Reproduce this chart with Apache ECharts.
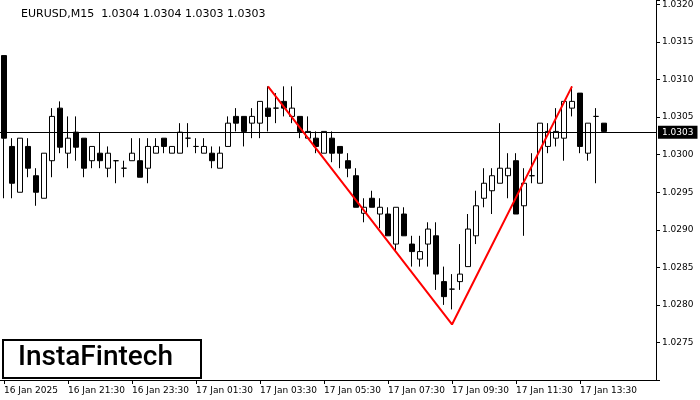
<!DOCTYPE html>
<html><head><meta charset="utf-8">
<script src="https://cdn.jsdelivr.net/npm/echarts@6/dist/echarts.min.js"></script>
<style>html,body{margin:0;padding:0;background:#fff}#c{width:700px;height:400px}</style>
</head><body><div id="c"></div>
<script>
// OHLC per 15-minute candle: [open, close, low, high]
const ohlc = [
[1.03132,1.03022,1.02942,1.03132],[1.03011,1.02962,1.02942,1.03022],[1.02950,1.03022,1.02950,1.03022],[1.03011,1.02982,1.02970,1.03022],
[1.02972,1.02950,1.02932,1.02982],[1.02942,1.03002,1.02942,1.03002],[1.02992,1.03051,1.02970,1.03062],[1.03062,1.03010,1.03002,1.03071],
[1.03002,1.03022,1.02982,1.03051],[1.03030,1.03010,1.02992,1.03051],[1.03022,1.02982,1.02970,1.03022],[1.02992,1.03011,1.02982,1.03011],
[1.03002,1.02992,1.02982,1.03030],[1.02982,1.03002,1.02970,1.03011],[1.02992,1.02992,1.02962,1.02992],[1.02982,1.02982,1.02970,1.02992],
[1.02992,1.03002,1.02992,1.03022],[1.02992,1.02970,1.02970,1.03022],[1.02982,1.03011,1.02962,1.03022],[1.03002,1.03011,1.03002,1.03022],
[1.03022,1.03011,1.03002,1.03022],[1.03002,1.03011,1.03002,1.03011],[1.03002,1.03030,1.03002,1.03042],[1.03022,1.03022,1.03010,1.03042],
[1.03011,1.03011,1.03002,1.03022],[1.03002,1.03011,1.03002,1.03022],[1.03002,1.02992,1.02982,1.03011],[1.02982,1.03002,1.02982,1.03011],
[1.03011,1.03042,1.03011,1.03051],[1.03051,1.03042,1.03031,1.03062],[1.03051,1.03031,1.03011,1.03051],[1.03042,1.03051,1.03022,1.03062],
[1.03042,1.03071,1.03022,1.03071],[1.03062,1.03051,1.03031,1.03091],[1.03062,1.03062,1.03042,1.03082],[1.03071,1.03062,1.03051,1.03091],
[1.03051,1.03062,1.03042,1.03091],[1.03051,1.03031,1.03022,1.03051],[1.03022,1.03031,1.03022,1.03051],[1.03022,1.03011,1.03002,1.03031],
[1.03002,1.03031,1.03002,1.03031],[1.03022,1.03002,1.02990,1.03031],[1.03011,1.03002,1.02982,1.03011],[1.02992,1.02982,1.02970,1.03002],
[1.02972,1.02930,1.02930,1.02982],[1.02922,1.02930,1.02910,1.02942],[1.02942,1.02930,1.02930,1.02952],[1.02921,1.02930,1.02902,1.02942],
[1.02921,1.02892,1.02892,1.02930],[1.02881,1.02930,1.02871,1.02930],[1.02921,1.02892,1.02892,1.02930],[1.02881,1.02871,1.02851,1.02892],
[1.02861,1.02871,1.02851,1.02892],[1.02881,1.02901,1.02851,1.02910],[1.02892,1.02841,1.02820,1.02910],[1.02831,1.02811,1.02800,1.02851],
[1.02821,1.02821,1.02794,1.02841],[1.02831,1.02841,1.02820,1.02881],[1.02851,1.02901,1.02851,1.02921],[1.02892,1.02932,1.02881,1.02952],
[1.02942,1.02962,1.02930,1.02982],[1.02952,1.02972,1.02921,1.02982],[1.02962,1.02982,1.02962,1.03042],[1.02972,1.02982,1.02942,1.03002],
[1.02992,1.02921,1.02921,1.03002],[1.02932,1.02962,1.02892,1.02982],[1.02972,1.02972,1.02962,1.03002],[1.02962,1.03042,1.02962,1.03042],
[1.03011,1.03031,1.03002,1.03042],[1.03022,1.03031,1.03011,1.03062],[1.03022,1.03071,1.02992,1.03071],[1.03062,1.03071,1.03051,1.03091],
[1.03082,1.03011,1.03002,1.03082],[1.03002,1.03042,1.02992,1.03042],[1.03051,1.03051,1.02962,1.03062],[1.03042,1.03031,1.03031,1.03042]
];
const totalSlots = 82;
const tickLabels = ["16 Jan 2025","16 Jan 21:30","16 Jan 23:30","17 Jan 01:30","17 Jan 03:30","17 Jan 05:30","17 Jan 07:30","17 Jan 09:30","17 Jan 11:30","17 Jan 13:30"];
const pattern = [[33,1.03091],[56,1.02774],[71,1.03091]];
const currentPrice = 1.0303;
const title = "EURUSD,M15  1.0304 1.0304 1.0303 1.0303";

const cats = Array.from({length: totalSlots}, (_, i) => i % 8 === 0 && tickLabels[i/8] ? tickLabels[i/8] : String(i));
const chart = echarts.init(document.getElementById('c'));
chart.setOption({
  animation: false,
  backgroundColor: '#fff',
  title: {text: title, left: 16, top: 4, textStyle: {fontSize: 11, fontWeight: 'normal', color: '#000', fontFamily: 'DejaVu Sans'}},
  grid: {left: 0, top: 0, width: 656, height: 380},
  xAxis: {type: 'category', data: cats, boundaryGap: true,
    axisLine: {lineStyle: {color: '#000'}},
    axisTick: {show: true, interval: (i) => i % 8 === 0 && i/8 < tickLabels.length, alignWithLabel: true, length: 4, lineStyle:{color:'#000'}},
    axisLabel: {interval: (i) => i % 8 === 0 && i/8 < tickLabels.length, align: 'left', fontSize: 9, color: '#000', fontFamily: 'DejaVu Sans', margin: 6},
    splitLine: {show: false}},
  yAxis: {type: 'value', position: 'right', min: 1.0270, max: 1.03205, interval: 0.0005,
    axisLine: {show: true, lineStyle: {color: '#000'}},
    axisTick: {show: true, length: 4, lineStyle:{color:'#000'}},
    axisLabel: {fontSize: 9, color: '#000', fontFamily: 'DejaVu Sans', margin: 6,
      formatter: v => (v < 1.02705 || v > 1.03204) ? '' : v.toFixed(4)},
    splitLine: {show: false}},
  series: [
    {type: 'candlestick', data: ohlc, barWidth: 5,
      itemStyle: {color: '#fff', color0: '#000', borderColor: '#000', borderColor0: '#000', borderWidth: 1}},
    {type: 'line', data: pattern.map(p => [cats[p[0]], p[1]]), symbol: 'none',
      lineStyle: {color: '#ff0000', width: 2}, z: 5},
    {type: 'line', data: [], symbol: 'none',
      markLine: {symbol: 'none', silent: true, animation: false, precision: 5,
        lineStyle: {color: '#000', width: 1, type: 'solid'},
        label: {show: true, position: 'end', formatter: currentPrice.toFixed(4), backgroundColor: '#000', color: '#fff', fontSize: 9, padding: [2,4], distance: 2, fontFamily:'DejaVu Sans'},
        data: [{yAxis: currentPrice}]}}
  ],
  graphic: [
    {type: 'rect', shape: {x: 3, y: 340, width: 198, height: 38}, style: {fill: '#fff', stroke: '#000', lineWidth: 2}, z: 100},
    {type: 'text', x: 18, y: 344, style: {text: 'InstaFintech', fontSize: 28, fontWeight: 500, fontFamily: 'Roboto', fill: '#000'}, z: 101}
  ]
});
</script></body></html>
